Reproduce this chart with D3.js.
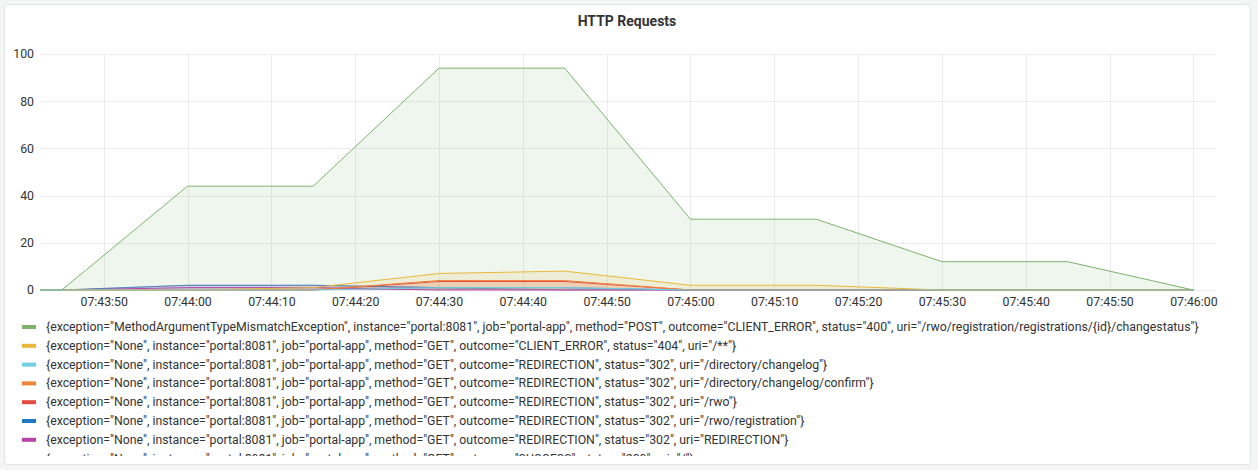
<!DOCTYPE html>
<html><head><meta charset="utf-8">
<script src="https://cdn.jsdelivr.net/npm/d3@7"></script>
<style>
html,body{margin:0;padding:0;background:#f4f5f5;}
svg{display:block;font-family:Roboto,"Noto Sans",sans-serif;}
</style></head>
<body>
<svg id="chart" width="1258" height="470"></svg>
<script>
// ---- data ----
const times = ["07:43:30","07:43:45","07:44:00","07:44:15","07:44:30","07:44:45","07:45:00","07:45:15","07:45:30","07:45:45","07:46:00"];
const seriesNames = [
  '{exception="MethodArgumentTypeMismatchException", instance="portal:8081", job="portal-app", method="POST", outcome="CLIENT_ERROR", status="400", uri="/rwo/registration/registrations/{id}/changestatus"}',
  '{exception="None", instance="portal:8081", job="portal-app", method="GET", outcome="CLIENT_ERROR", status="404", uri="/**"}',
  '{exception="None", instance="portal:8081", job="portal-app", method="GET", outcome="REDIRECTION", status="302", uri="/directory/changelog"}',
  '{exception="None", instance="portal:8081", job="portal-app", method="GET", outcome="REDIRECTION", status="302", uri="/directory/changelog/confirm"}',
  '{exception="None", instance="portal:8081", job="portal-app", method="GET", outcome="REDIRECTION", status="302", uri="/rwo"}',
  '{exception="None", instance="portal:8081", job="portal-app", method="GET", outcome="REDIRECTION", status="302", uri="/rwo/registration"}',
  '{exception="None", instance="portal:8081", job="portal-app", method="GET", outcome="REDIRECTION", status="302", uri="REDIRECTION"}',
  '{exception="None", instance="portal:8081", job="portal-app", method="GET", outcome="SUCCESS", status="200", uri="/"}'
];
const seriesColors = ["#7eb26d","#eab839","#6ed0e0","#ef843c","#e24d42","#1f78c1","#ba43a9","#705da0"];
const values400 =        [0,0,44,44,94,94,30,30,12,12,0];
const values404 =        [0,0,0,1,7,8,2,2,0,0,0];
const valuesChangelog =  [0,0,0,0,1,1,0,0,0,0,0];
const valuesConfirm =    [0,0,0,0,4,4,0,0,0,0,0];
const valuesRwo =        [0,0,0,0,3.6,3.6,0,0,0,0,0];
const valuesRegistration=[0,0,2,2,1,1,0,0,0,0,0];
const valuesRedirection =[0,0,1,1,0,0,0,0,0,0,0];
const valuesSuccess =    [0,0,2,2,1,0,0,0,0,0,0];
const yTicks = [0,20,40,60,80,100];
const xTickLabels = ["07:43:50","07:44:00","07:44:10","07:44:20","07:44:30","07:44:40","07:44:50","07:45:00","07:45:10","07:45:20","07:45:30","07:45:40","07:45:50","07:46:00"];
const title = "HTTP Requests";
const domainStart = "07:43:42.4", domainEnd = "07:46:02.7";
const lineOrder = [7,6,5,4,3,1,0,2];

// ---- helpers ----
function parseT(s){
  const [h,m,sec] = s.split(":");
  const sf = parseFloat(sec);
  return new Date(2020,0,1,+h,+m,Math.floor(sf),Math.round((sf-Math.floor(sf))*1000));
}
const allValues = [values400,values404,valuesChangelog,valuesConfirm,valuesRwo,valuesRegistration,valuesRedirection,valuesSuccess];
const series = seriesNames.map((n,i)=>({name:n,color:seriesColors[i],pts:times.map((t,j)=>({t:parseT(t),v:allValues[i][j]}))}));

const svg = d3.select("#chart");
// panel
svg.append("rect").attr("x",4.5).attr("y",4.5).attr("width",1246).attr("height",460)
  .attr("rx",3).attr("fill","#fff").attr("stroke","#e3e3e3");
svg.append("text").attr("x",627).attr("y",26).attr("text-anchor","middle")
  .attr("font-size",14).attr("font-weight","bold").attr("fill","#333").text(title);

const L=40,R=1216,T=54,B=290;
const x = d3.scaleTime().domain([parseT(domainStart),parseT(domainEnd)]).range([L,R]);
const y = d3.scaleLinear().domain([0,100]).range([B,T]);

const defs = svg.append("defs");
defs.append("clipPath").attr("id","pc").append("rect").attr("x",L).attr("y",T-5).attr("width",R-L).attr("height",B-T+6);

// grid
const xTicks = xTickLabels.map(parseT);
const g = svg.append("g");
g.selectAll(".hg").data(yTicks).join("line").attr("x1",L).attr("x2",R)
  .attr("y1",d=>Math.round(y(d))+0.5).attr("y2",d=>Math.round(y(d))+0.5).attr("stroke","#ececec");
g.selectAll(".vg").data(xTicks).join("line").attr("y1",T).attr("y2",B)
  .attr("x1",d=>Math.round(x(d))+0.5).attr("x2",d=>Math.round(x(d))+0.5).attr("stroke","#ececec");

// axes
const yAxis = d3.axisLeft(y).tickValues(yTicks).tickSize(0).tickPadding(6);
svg.append("g").attr("transform",`translate(${L},0)`).call(yAxis)
  .call(s=>s.select(".domain").remove())
  .call(s=>s.selectAll("text").attr("font-size",12.3).attr("fill","#333").attr("font-family","Roboto"));
const xAxis = d3.axisBottom(x).tickValues(xTicks).tickFormat(d3.timeFormat("%H:%M:%S")).tickSize(0).tickPadding(7);
svg.append("g").attr("transform",`translate(0,${B})`).call(xAxis)
  .call(s=>s.select(".domain").remove())
  .call(s=>s.selectAll("text").attr("font-size",12.3).attr("fill","#333").attr("font-family","Roboto"));

// series
const plot = svg.append("g").attr("clip-path","url(#pc)");
const area = d3.area().x(d=>x(d.t)).y0(y(0)).y1(d=>y(d.v));
const line = d3.line().x(d=>x(d.t)).y(d=>y(d.v));
series.forEach(s=>{
  plot.append("path").attr("d",area(s.pts)).attr("fill",s.color).attr("fill-opacity",0.12);
});
lineOrder.forEach(i=>{
  const s = series[i];
  plot.append("path").attr("d",line(s.pts)).attr("fill","none").attr("stroke",s.color)
    .attr("stroke-width",1).attr("stroke-opacity", i===5||i===7 ? 0.6 : 1);
});

// legend
defs.append("clipPath").attr("id","lc").append("rect").attr("x",0).attr("y",312).attr("width",1258).attr("height",144);
const leg = svg.append("g").attr("clip-path","url(#lc)");
series.forEach((s,i)=>{
  const yy = 327 + i*18.8;
  leg.append("rect").attr("x",22).attr("y",yy-2).attr("width",14).attr("height",4).attr("fill",s.color);
  leg.append("text").attr("x",46).attr("y",yy+4).attr("font-size",12.3).attr("fill","#333").text(s.name);
});
</script>
</body></html>
